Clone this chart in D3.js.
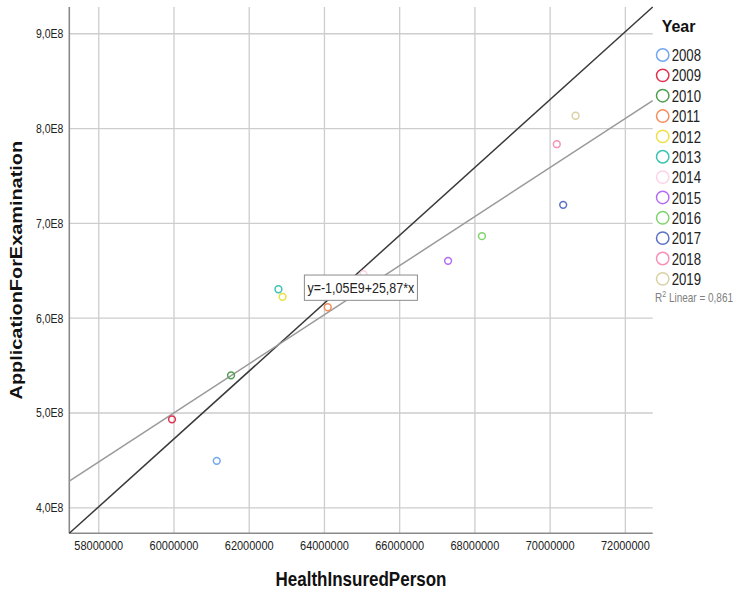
<!DOCTYPE html>
<html>
<head>
<meta charset="utf-8">
<script src="https://cdn.jsdelivr.net/npm/d3@7"></script>
<style>
  body { margin: 0; background: #fff; }
  text { font-family: "Liberation Sans", Arial, sans-serif; }
</style>
</head>
<body>
<svg id="chart" width="742" height="596"></svg>
<script>
// data
var years = ["2008","2009","2010","2011","2012","2013","2014","2015","2016","2017","2018","2019"];
var insured = [61150000,59960000,61530000,64100000,62900000,62790000,65050000,67300000,68200000,70360000,70190000,70690000];
var applications = [449000000,492800000,539200000,611000000,622000000,630000000,646000000,660000000,686000000,719000000,783000000,813000000];
var yearColors = ["#72a8f0","#e0334f","#4f9e4f","#f58e5c","#ede043","#3dc2b3","#fbd3e6","#b56cf3","#7fd36c","#5a72c4","#f890b8","#d9d1a3"];

var xTicks = [58000000,60000000,62000000,64000000,66000000,68000000,70000000,72000000];
var yTicks = [400000000,500000000,600000000,700000000,800000000,900000000];
var yTickLabels = ["4,0E8","5,0E8","6,0E8","7,0E8","8,0E8","9,0E8"];

var fitIntercept = -1.0528e9, fitSlope = 25.87;
var fitLabel = "y=-1,05E9+25,87*x";
var rSquared = "0,861";
var labelAt = [63480000, 645000000]; // top-left of the equation box, in data units

var svg = d3.select("#chart"),
    margin = {top: 7, right: 89.3, bottom: 62.7, left: 69.3},
    width = 742 - margin.left - margin.right,
    height = 596 - margin.top - margin.bottom,
    g = svg.append("g").attr("transform", "translate(" + margin.left + "," + margin.top + ")");

var x = d3.scaleLinear().domain([57230000, 72740000]).range([0, width]);
var y = d3.scaleLinear().domain([372600000, 927700000]).range([height, 0]);

// the SPSS export is a little stretched vertically, texts follow that
function stretch(sel, k) {
  sel.each(function() {
    var t = d3.select(this);
    var tx = +t.attr("x") || 0, ty = +t.attr("y") || 0;
    t.attr("x", null).attr("y", null)
     .attr("transform", "translate(" + tx + "," + ty + ") scale(1," + k + ")");
  });
}

// grid
g.append("g")
    .attr("transform", "translate(0," + height + ")")
    .call(d3.axisBottom(x).tickValues(xTicks).tickSize(-height).tickFormat(""))
    .call(function(a) {
      a.select(".domain").remove();
      a.selectAll("line").attr("stroke", "#cdcdcd").attr("stroke-width", 1.3);
    });
g.append("g")
    .call(d3.axisLeft(y).tickValues(yTicks).tickSize(-width).tickFormat(""))
    .call(function(a) {
      a.select(".domain").remove();
      a.selectAll("line").attr("stroke", "#cdcdcd").attr("stroke-width", 1.3);
    });

// tick labels
var xAxisG = g.append("g")
    .attr("transform", "translate(0," + height + ")")
    .call(d3.axisBottom(x).tickValues(xTicks).tickSize(0).tickFormat(d3.format("d")));
xAxisG.select(".domain").remove();
xAxisG.selectAll("text")
    .attr("font-family", "Liberation Sans, Arial, sans-serif")
    .attr("font-size", 11).attr("fill", "#222").attr("dy", null).attr("y", 20 / 1.2);
stretch(xAxisG.selectAll("text"), 1.2);

var yAxisG = g.append("g")
    .call(d3.axisLeft(y).tickValues(yTicks).tickSize(0).tickFormat(function(d, i) { return yTickLabels[i]; }));
yAxisG.select(".domain").remove();
yAxisG.selectAll("text")
    .attr("font-family", "Liberation Sans, Arial, sans-serif")
    .attr("font-size", 10.5).attr("fill", "#222").attr("x", -6).attr("dy", "0.36em");
yAxisG.selectAll("text").each(function() {
  d3.select(this).attr("transform", "translate(-6,0) scale(1,1.17)").attr("x", null);
});

// axis lines
g.append("line").attr("x1", 0).attr("x2", 0).attr("y1", 0).attr("y2", height)
    .attr("stroke", "#8a8a8a").attr("stroke-width", 1.6);
g.append("line").attr("x1", 0).attr("x2", width).attr("y1", height).attr("y2", height)
    .attr("stroke", "#8a8a8a").attr("stroke-width", 1.6);

var line = d3.line()
    .x(function(d) { return x(d[0]); })
    .y(function(d) { return y(d[1]); });

// reference diagonal
g.append("path")
    .datum([[x.domain()[0], y.domain()[0]], [x.domain()[1], y.domain()[1]]])
    .attr("fill", "none").attr("stroke", "#3a3a3a").attr("stroke-width", 1.5)
    .attr("d", line);

// linear fit
g.append("path")
    .datum(x.domain().map(function(v) { return [v, fitIntercept + fitSlope * v]; }))
    .attr("fill", "none").attr("stroke", "#9a9a9a").attr("stroke-width", 1.5)
    .attr("d", line);

// points
g.selectAll(".pt")
    .data(years)
    .enter()
    .append("circle")
    .attr("class", "pt")
    .attr("cx", function(d, i) { return x(insured[i]); })
    .attr("cy", function(d, i) { return y(applications[i]); })
    .attr("r", 3.4)
    .attr("fill", "none")
    .attr("stroke", function(d, i) { return yearColors[i]; })
    .attr("stroke-width", 1.5);

// equation box
var lab = g.append("g").attr("transform", "translate(" + x(labelAt[0]) + "," + y(labelAt[1]) + ")");
var labRect = lab.append("rect").attr("fill", "#fff").attr("stroke", "#8c8c8c").attr("stroke-width", 1);
var labText = lab.append("text")
    .attr("font-size", 12.5).attr("fill", "#222")
    .attr("transform", "translate(3,18) scale(1,1.2)")
    .text(fitLabel);
var bb = labText.node().getBBox();
labRect.attr("width", bb.width + 6).attr("height", 25.3);

// axis titles
svg.append("text")
    .attr("font-size", 17).attr("font-weight", "bold").attr("fill", "#111")
    .attr("text-anchor", "middle")
    .attr("transform", "translate(" + (margin.left + width / 2) + ",586) scale(1,1.17)")
    .text("HealthInsuredPerson");
svg.append("text")
    .attr("font-size", 17).attr("font-weight", "bold").attr("fill", "#111")
    .attr("text-anchor", "middle")
    .attr("transform", "translate(22," + (margin.top + height / 2) + ") rotate(-90) scale(1.17,1)")
    .text("ApplicationForExamination");

// legend
var legend = svg.append("g").attr("transform", "translate(655,0)");
legend.append("text")
    .attr("font-size", 16).attr("font-weight", "bold").attr("fill", "#111")
    .attr("transform", "translate(6.7,31.6) scale(1,1.08)")
    .text("Year");
var item = legend.selectAll(".item")
    .data(years)
    .enter()
    .append("g")
    .attr("class", "item")
    .attr("transform", function(d, i) { return "translate(0," + (55 + i * 20.35) + ")"; });
item.append("circle")
    .attr("cx", 7.7).attr("r", 6.2)
    .attr("fill", "none")
    .attr("stroke", function(d, i) { return yearColors[i]; })
    .attr("stroke-width", 1.5);
item.append("text")
    .attr("font-size", 13.2).attr("fill", "#222")
    .attr("transform", "translate(16.7,6.1) scale(1,1.3)")
    .text(function(d) { return d; });

var r2 = legend.append("text")
    .attr("font-size", 10).attr("fill", "#808080")
    .attr("transform", "translate(0,301.7) scale(1,1.25)");
r2.append("tspan").text("R");
r2.append("tspan").attr("font-size", 7).attr("dy", -4).text("2");
r2.append("tspan").attr("dy", 4).text(" Linear = " + rSquared);
</script>
</body>
</html>
